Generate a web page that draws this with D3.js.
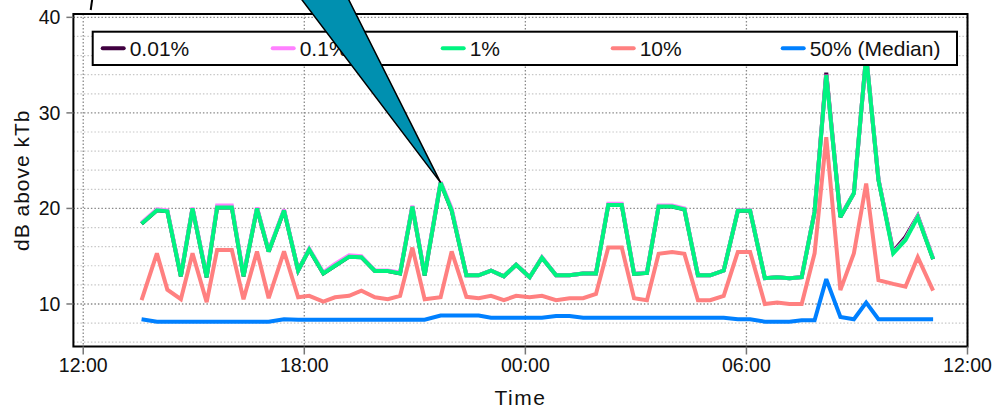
<!DOCTYPE html>
<html><head><meta charset="utf-8">
<script src="https://cdn.jsdelivr.net/npm/d3@7"></script>
<style>body{margin:0;background:#fff;overflow:hidden}</style>
</head><body><svg id="c" width="993" height="412"></svg>
<script>
// ---- data ----
const times = ["13:35","14:00","14:17","14:39","14:58","15:21","15:38","16:02","16:21","16:43",
"17:02","17:27","17:50","18:08","18:31","18:50","19:13","19:33","19:55","20:16",
"20:36","20:56","21:16","21:42","22:00","22:24","22:44","23:04","23:25","23:45",
"00:07","00:27","00:50","01:12","01:34","01:55","02:15","02:37","02:57","03:18",
"03:37","03:59","04:19","04:41","05:01","05:23","05:46","06:06","06:30","06:50",
"07:10","07:30","07:51","08:10","08:33","08:55","09:15","09:35","09:59","10:19",
"10:39","11:04"];
const p1 = [18.4,19.8,19.7,12.9,20.0,12.8,20.1,20.1,12.9,20.0,
15.5,19.8,13.5,15.7,13.2,14.0,14.95,14.9,13.45,13.45,
13.2,20.2,13.0,22.7,19.8,13.0,13.0,13.5,12.9,14.1,
12.8,14.85,13.0,13.0,13.2,13.2,20.35,20.35,13.15,13.25,
20.2,20.2,19.9,13.0,13.0,13.5,19.75,19.75,12.7,12.8,
12.7,12.8,19.65,33.95,19.1,21.6,36.0,23.0,15.3,16.7,
19.1,14.7];
const p01 = [18.5,19.9,19.8,13.0,20.1,12.9,20.3,20.3,13.0,20.1,
15.6,19.9,13.5,15.8,13.3,14.2,15.1,15.0,13.5,13.5,
13.3,20.3,13.1,22.8,20.0,13.0,13.0,13.5,12.9,14.1,
12.8,14.9,13.0,13.0,13.2,13.2,20.5,20.5,13.2,13.3,
20.3,20.3,20.0,13.0,13.0,13.5,19.8,19.8,12.7,12.8,
12.7,12.8,19.7,34.0,19.2,21.6,36.0,23.1,15.4,16.8,
19.2,14.8];
const p001 = [18.4,19.8,19.7,12.9,20.0,12.8,20.1,20.1,12.9,20.0,
15.5,19.8,13.5,15.7,13.2,14.0,14.95,14.9,13.45,13.45,
13.2,20.2,13.0,22.7,19.8,13.0,13.0,13.5,12.9,14.1,
12.8,14.85,13.0,13.0,13.2,13.2,20.35,20.35,13.15,13.25,
20.2,20.2,19.9,13.0,13.0,13.5,19.75,19.75,12.7,12.8,
12.7,12.8,19.65,34.2,19.1,21.6,36.0,23.0,15.5,17.0,
19.2,14.7];
const p10 = [10.4,15.3,11.5,10.5,15.3,10.2,15.65,15.65,10.5,15.5,
10.6,15.5,10.7,10.85,10.25,10.7,10.85,11.4,10.7,10.5,
10.85,15.9,10.5,10.7,15.5,10.75,10.6,10.85,10.4,10.85,
10.7,10.85,10.4,10.6,10.6,11.05,15.9,15.9,10.6,10.4,
15.25,15.45,15.25,10.4,10.4,10.85,15.45,15.45,10.0,10.15,
10.0,10.0,15.3,27.45,11.45,15.3,22.6,12.5,12.1,11.8,
14.9,11.4];
const p50 = [8.4,8.15,8.15,8.15,8.15,8.15,8.15,8.15,8.15,8.15,
8.15,8.4,8.35,8.35,8.35,8.35,8.35,8.35,8.35,8.35,
8.35,8.35,8.35,8.8,8.8,8.8,8.8,8.55,8.55,8.55,
8.55,8.55,8.75,8.75,8.55,8.55,8.55,8.55,8.55,8.55,
8.55,8.55,8.55,8.55,8.55,8.55,8.4,8.4,8.15,8.15,
8.15,8.3,8.3,12.6,8.65,8.4,10.15,8.4,8.4,8.4,
8.4,8.4];
const seriesNames = ["0.01%","0.1%","1%","10%","50% (Median)"];
const seriesValues = [p001,p01,p1,p10,p50];
const seriesColors = ["#400040","#ff80ff","#00f480","#ff8080","#0080ff"];
const yMajor = [10,20,30,40];
const yMinor = [6,8,12,14,16,18,22,24,26,28,32,34,36,38];
const xStart = "2000-01-01T11:44", xEnd = "2000-01-02T12:00";
const yDomain = [5.55,40.35];
const calloutIndex = 23; // point the callout arrow marks
const xTitle = "Time", yTitle = "dB above kTb";

// ---- build dates ----
let day = 1, prevH = -1;
const dates = times.map(s => {
  const [h,m] = s.split(":").map(Number);
  if (h < prevH) day++;
  prevH = h;
  return new Date(2000,0,day,h,m);
});

const L=73.4, R=967.5, T=14, B=346.5;
const svg = d3.select("#c");
const font = "'Liberation Sans', Arial, sans-serif";
const x = d3.scaleTime().domain([new Date(xStart), new Date(xEnd)]).range([L,R]);
const y = d3.scaleLinear().domain(yDomain).range([B,T]);

// minor grid
svg.append("g").selectAll("line").data(yMinor).join("line")
  .attr("x1",L).attr("x2",R).attr("y1",d=>y(d)).attr("y2",d=>y(d))
  .attr("stroke","#c8c8c8").attr("stroke-width",1.2).attr("stroke-dasharray","1.5,2");
// major grid
svg.append("g").selectAll("line").data(yMajor).join("line")
  .attr("x1",L).attr("x2",R).attr("y1",d=>y(d)).attr("y2",d=>y(d))
  .attr("stroke","#8a8a8a").attr("stroke-width",1.3).attr("stroke-dasharray","1.5,2");
const xt = x.ticks(d3.timeHour.every(6));
svg.append("g").selectAll("line").data(xt).join("line")
  .attr("x1",d=>x(d)).attr("x2",d=>x(d)).attr("y1",T).attr("y2",B)
  .attr("stroke","#8a8a8a").attr("stroke-width",1.3).attr("stroke-dasharray","1.5,2");

// series
const line = d3.line().x((d,i)=>x(dates[i])).y(d=>y(d));
seriesValues.forEach((vals,k)=>{
  svg.append("path").datum(vals).attr("d",line)
    .attr("fill","none").attr("stroke",seriesColors[k]).attr("stroke-width",4)
    .attr("stroke-linejoin","miter").attr("stroke-miterlimit",3);
});

// frame
svg.append("rect").attr("x",L).attr("y",T).attr("width",R-L).attr("height",B-T)
  .attr("fill","none").attr("stroke","#000").attr("stroke-width",2);

// y axis ticks/labels
const ya = svg.append("g");
ya.selectAll("line").data(yMajor).join("line")
  .attr("x1",L-7).attr("x2",L).attr("y1",d=>y(d)).attr("y2",d=>y(d))
  .attr("stroke","#777").attr("stroke-width",1.5);
ya.selectAll("text").data(yMajor).join("text")
  .attr("x",L-13).attr("y",d=>y(d)).attr("dy","0.35em").attr("text-anchor","end")
  .attr("font-family",font).attr("font-size",19.5).attr("fill","#111").text(d=>d);
// x axis ticks/labels
const xa = svg.append("g");
xa.selectAll("line").data(xt).join("line")
  .attr("x1",d=>x(d)).attr("x2",d=>x(d)).attr("y1",B).attr("y2",B+8)
  .attr("stroke","#777").attr("stroke-width",1.5);
const fmt = d3.timeFormat("%H:%M");
xa.selectAll("text").data(xt).join("text")
  .attr("x",d=>x(d)).attr("y",B+25).attr("text-anchor","middle")
  .attr("font-family",font).attr("font-size",19.5).attr("fill","#111").text(d=>fmt(d));

svg.append("text").attr("x",(L+R)/2).attr("y",405).attr("text-anchor","middle")
  .attr("font-family",font).attr("font-size",21).attr("fill","#111")
  .attr("letter-spacing",1.5).text(xTitle);
svg.append("text").attr("transform",`translate(29,${(T+B)/2}) rotate(-90)`)
  .attr("text-anchor","middle").attr("font-family",font).attr("font-size",21)
  .attr("fill","#111").attr("letter-spacing",1).text(yTitle);

// legend
const lx=92.7, ly=31.7, lw=864.3, lh=33.3, step=170;
const lg = svg.append("g");
lg.append("rect").attr("x",lx).attr("y",ly).attr("width",lw).attr("height",lh)
  .attr("fill","#fff").attr("stroke","#000").attr("stroke-width",2);
seriesNames.forEach((n,i)=>{
  const sx = lx+10+i*step, cy = ly+lh/2;
  lg.append("line").attr("x1",sx).attr("x2",sx+21).attr("y1",cy).attr("y2",cy)
    .attr("stroke",seriesColors[i]).attr("stroke-width",4).attr("stroke-linecap","round");
  lg.append("text").attr("x",sx+27).attr("y",cy+7.5)
    .attr("font-family",font).attr("font-size",21).attr("fill","#111").text(n);
});

// callout arrow pointing at the marked data point
const tx = x(dates[calloutIndex]), ty = y(p1[calloutIndex]);
svg.append("path")
  .attr("d",`M${tx-154},${ty-203} L${tx-102},${ty-203} L${tx},${ty} Z`)
  .attr("fill","#0090b0").attr("stroke","#000").attr("stroke-width",1.5)
  .attr("stroke-linejoin","miter");
// fragment of text clipped at the top edge
svg.append("path").attr("d",`M${L+19},-2 L${L+17.3},10`)
  .attr("stroke","#000").attr("stroke-width",2);
</script></body></html>
